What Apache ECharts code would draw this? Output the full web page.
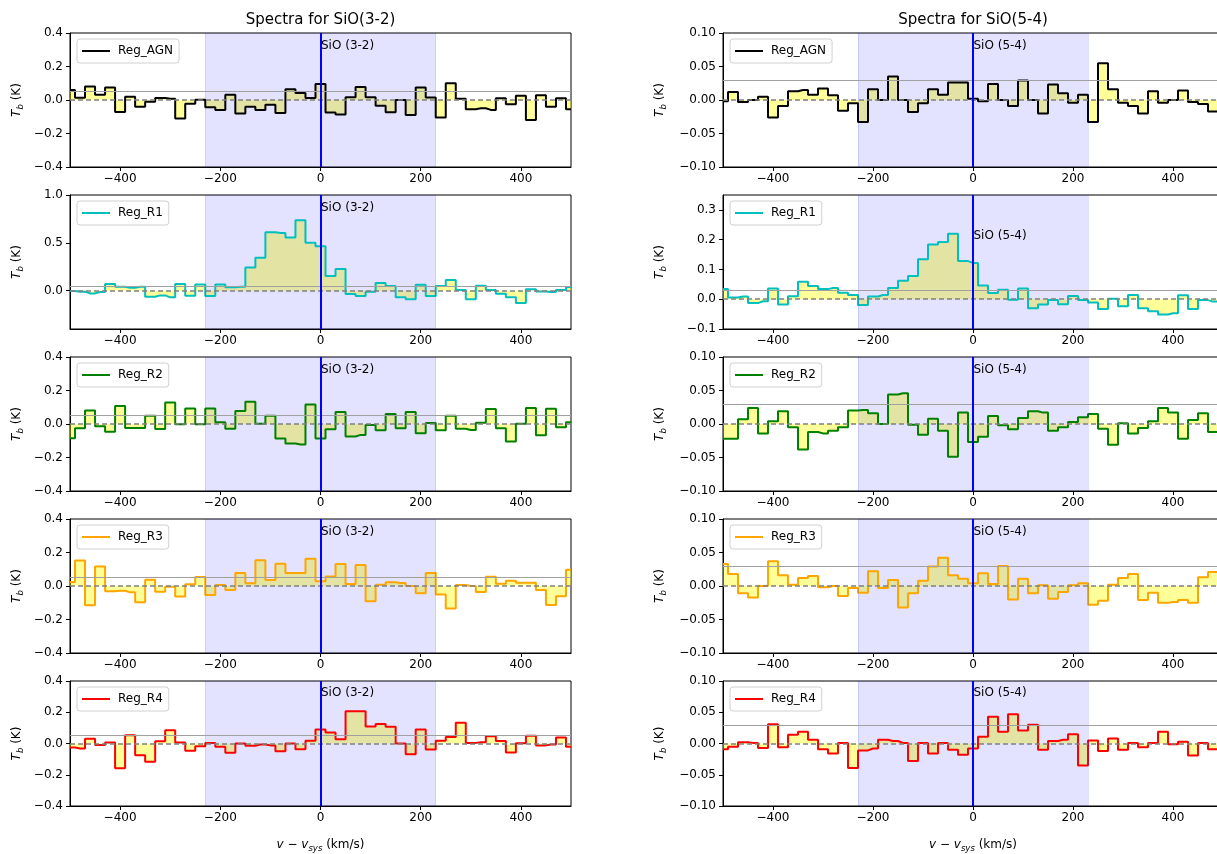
<!DOCTYPE html>
<html><head><meta charset="utf-8">
<script src="https://cdn.jsdelivr.net/npm/echarts@6/dist/echarts.min.js"></script>
<style>html,body{margin:0;padding:0;background:#fff;overflow:hidden}#c{width:1224px;height:854px}</style>
</head><body><div id="c"></div>
<script>
// ---------------- DATA ----------------
const velocity = [-500,-480,-460,-440,-420,-400,-380,-360,-340,-320,-300,-280,-260,-240,-220,-200,-180,-160,-140,-120,-100,-80,-60,-40,-20,0,20,40,60,80,100,120,140,160,180,200,220,240,260,280,300,320,340,360,380,400,420,440,460,480,500];
const regions = ['Reg_AGN','Reg_R1','Reg_R2','Reg_R3','Reg_R4'];
const lines = ['SiO (3-2)','SiO (5-4)'];
const titles = ['Spectra for SiO(3-2)','Spectra for SiO(5-4)'];

const sio32_AGN = [0.060,0.014,0.080,0.032,0.074,-0.072,0.020,-0.040,-0.010,0.012,0.008,-0.110,-0.022,0.002,-0.044,-0.060,0.032,-0.080,-0.040,-0.060,-0.028,-0.078,0.064,0.042,0.012,0.096,-0.075,-0.087,0.017,0.077,0.017,-0.035,-0.073,0.000,-0.090,0.075,0.015,-0.104,0.100,0.007,-0.055,-0.049,-0.059,0.011,-0.025,0.025,-0.120,0.029,-0.041,0.011,-0.055];
const sio32_R1 = [-0.003,-0.010,-0.028,-0.014,0.069,0.042,0.031,0.042,-0.063,-0.049,-0.069,0.069,-0.052,0.066,-0.056,0.066,0.035,0.042,0.243,0.344,0.611,0.604,0.556,0.736,0.500,0.465,0.153,0.226,-0.035,-0.056,-0.010,0.080,0.049,-0.069,-0.090,0.063,-0.056,0.049,0.111,0.007,-0.090,0.052,0.007,-0.031,-0.069,-0.128,0.014,-0.007,-0.014,0.007,0.038];
const sio32_R2 = [-0.085,-0.026,0.081,-0.014,-0.046,0.107,-0.024,-0.024,0.050,-0.030,0.129,-0.002,0.093,-0.002,0.093,0.010,-0.028,0.077,0.133,0.002,0.050,-0.087,-0.117,-0.123,0.117,-0.087,-0.032,0.071,-0.075,-0.065,-0.006,-0.038,0.059,-0.026,0.071,-0.055,0.006,-0.038,0.050,-0.028,-0.036,0.008,0.089,-0.026,-0.105,0.002,0.095,-0.067,0.091,-0.020,0.010];
const sio32_R3 = [0.024,0.152,-0.115,0.117,-0.032,-0.028,-0.038,-0.097,0.038,-0.034,-0.004,-0.063,0.010,0.053,-0.053,0.006,-0.024,0.077,0.016,0.154,0.036,0.133,0.077,0.077,0.162,0.028,0.057,0.131,0.012,0.125,-0.091,0.008,0.022,0.018,0.000,-0.044,0.077,-0.050,-0.135,0.006,0.000,-0.036,0.055,0.014,0.032,0.020,0.020,-0.024,-0.113,-0.061,0.097];
const sio32_R4 = [-0.026,-0.032,0.030,-0.010,0.006,-0.158,0.053,-0.075,-0.117,0.014,0.085,0.006,-0.046,-0.018,0.004,-0.020,-0.059,0.000,-0.014,-0.006,-0.012,-0.050,0.000,-0.036,0.018,0.089,0.071,0.028,0.206,0.206,0.109,0.125,0.107,0.000,-0.069,0.089,-0.038,0.018,0.042,0.133,0.004,0.008,0.046,0.016,-0.057,0.002,0.050,-0.012,-0.006,0.038,-0.020];

const sio54_AGN = [-0.002,0.012,-0.003,0.000,0.005,-0.026,-0.009,0.013,0.015,0.008,0.017,0.007,-0.016,-0.005,-0.033,0.016,0.000,0.035,0.000,-0.018,-0.005,0.016,0.008,0.026,0.026,0.002,-0.002,0.024,0.000,-0.009,0.029,0.000,-0.020,0.023,0.010,-0.004,0.008,-0.033,0.055,0.016,-0.004,-0.009,-0.020,0.013,-0.004,0.000,0.014,-0.003,-0.006,-0.017,-0.005];
const sio54_R1 = [0.034,0.006,0.009,-0.013,-0.007,0.036,-0.018,0.010,0.059,0.044,0.034,0.038,0.022,0.014,-0.019,0.009,0.014,0.038,0.062,0.078,0.134,0.184,0.192,0.220,0.128,0.122,0.046,0.021,0.032,-0.002,0.036,-0.030,-0.018,-0.003,-0.017,0.011,-0.003,-0.011,-0.033,0.002,-0.024,0.014,-0.030,-0.040,-0.051,-0.047,0.013,-0.033,-0.003,-0.008,-0.005];
const sio54_R2 = [-0.022,-0.022,0.007,0.024,-0.014,0.004,0.019,-0.005,-0.038,-0.012,-0.014,-0.010,-0.005,0.020,0.021,0.016,0.000,0.044,0.046,-0.001,-0.016,0.008,-0.010,-0.049,0.017,-0.027,-0.019,0.012,-0.002,-0.008,0.009,0.019,0.017,-0.010,-0.005,0.003,0.010,0.015,-0.007,-0.031,0.001,-0.014,-0.006,0.004,0.024,0.017,-0.022,0.006,0.016,-0.012,-0.010];
const sio54_R3 = [0.033,0.018,-0.011,-0.017,0.000,0.037,0.016,0.002,0.012,0.015,-0.002,0.000,-0.015,-0.003,-0.010,0.022,-0.003,0.009,-0.032,-0.011,0.008,0.029,0.042,0.016,0.011,0.004,0.019,0.003,0.030,-0.020,0.011,-0.011,0.001,-0.019,-0.009,0.001,0.004,-0.028,-0.022,0.002,0.012,0.018,-0.021,-0.010,-0.025,-0.024,-0.021,-0.025,0.013,0.021,0.020];
const sio54_R4 = [-0.009,-0.005,0.002,0.001,-0.007,0.031,-0.006,0.014,0.019,0.006,-0.009,-0.016,0.001,-0.039,-0.011,-0.008,0.006,0.004,0.001,-0.028,0.001,-0.016,0.001,-0.010,-0.018,-0.008,0.011,0.043,0.019,0.047,0.021,0.030,-0.010,0.004,0.006,0.015,-0.035,0.005,-0.012,0.008,-0.010,0.001,-0.006,0.001,0.019,-0.001,0.003,-0.019,0.001,-0.009,-0.005];

const xTicks = [-400,-200,0,200,400];
const yTicks32 = [-0.4,-0.2,0.0,0.2,0.4];
const yTicks32_R1 = [0.0,0.5,1.0];
const yTicks54 = [-0.10,-0.05,0.00,0.05,0.10];
const yTicks54_R1 = [-0.1,0.0,0.1,0.2,0.3];
const yRange32 = [-0.4,0.4], yRange32_R1 = [-0.4,1.0];
const yRange54 = [-0.1,0.1], yRange54_R1 = [-0.1,0.35];
const spanLimits = [-230,230];
const noiseLevel = [0.047, 0.026];
const lineLabelY32 = [0.322,0.864,0.322,0.322,0.322];
const lineLabelY54 = [0.081,0.213,0.081,0.081,0.081];

// ---------------- STYLE ----------------
const colors = ['#000000','#00bfbf','#008000','#ffa500','#ff0000'];
const FONT = 'DejaVu Sans';
const colLeft = [70, 723], colWidth = [501, 500];
const rowTop0 = 33, rowPitch = 162, rowH = 134;
const fmt = (v,d)=>{ let s=(Math.abs(v)<1e-9?0:v).toFixed(d); return s.replace('-','\u2212'); };

const spectra = [[sio32_AGN,sio32_R1,sio32_R2,sio32_R3,sio32_R4],[sio54_AGN,sio54_R1,sio54_R2,sio54_R3,sio54_R4]];

const grid=[], xAxis=[], yAxis=[], series=[], legend=[];
let idx=0;
for (let c=0;c<2;c++){
  for (let r=0;r<5;r++){
    const top = rowTop0 + rowPitch*r;
    grid.push({left:colLeft[c], top:top, width:colWidth[c], height:rowH, show:true, borderColor:'#000', borderWidth:1, backgroundColor:'transparent'});
    let yr, yt, dec;
    if (c===0){ yr = r===1?yRange32_R1:yRange32; yt = r===1?yTicks32_R1:yTicks32; dec=1; }
    else { yr = r===1?yRange54_R1:yRange54; yt = r===1?yTicks54_R1:yTicks54; dec = r===1?1:2; }
    const xa = {gridIndex:idx, type:'value', min:-500, max:500,
      axisLine:{show:true, onZero:false, lineStyle:{color:'#000',width:1}},
      axisTick:{show:true, length:4, customValues:xTicks, lineStyle:{color:'#000',width:1}},
      axisLabel:{customValues:xTicks, formatter:v=>fmt(v,0), color:'#000', fontSize:12, fontFamily:FONT, margin:6},
      splitLine:{show:false}};
    if (r===4){
      xa.name = '{i|v}{n| \u2212 }{i|v}{s|sys}{n| (km/s)}';
      xa.nameLocation='middle'; xa.nameGap=31;
      xa.nameTextStyle={color:'#000', rich:{
        i:{fontStyle:'italic', fontSize:12, fontFamily:FONT, color:'#000', lineHeight:16, verticalAlign:'middle'},
        n:{fontSize:12, fontFamily:FONT, color:'#000', lineHeight:16, verticalAlign:'middle'},
        s:{fontStyle:'italic', fontSize:8.5, fontFamily:FONT, color:'#000', lineHeight:9, verticalAlign:'bottom'}}};
    }
    xAxis.push(xa);
    yAxis.push({gridIndex:idx, type:'value', min:yr[0], max:yr[1],
      axisLine:{show:true, onZero:false, lineStyle:{color:'#000',width:1}},
      axisTick:{show:true, length:4, customValues:yt, lineStyle:{color:'#000',width:1}},
      axisLabel:{customValues:yt, formatter:v=>fmt(v,dec), color:'#000', fontSize:12, fontFamily:FONT, margin:7},
      splitLine:{show:false},
      name:'{t|T}{s|b}{n| (K)}', nameLocation:'middle', nameRotate:90, nameGap: c===0?45:55,
      nameTextStyle:{color:'#000', rich:{
        t:{fontStyle:'italic', fontSize:12, fontFamily:FONT, color:'#000', lineHeight:16, verticalAlign:'middle'},
        n:{fontSize:12, fontFamily:FONT, color:'#000', lineHeight:16, verticalAlign:'middle'},
        s:{fontStyle:'italic', fontSize:8.5, fontFamily:FONT, color:'#000', lineHeight:9, verticalAlign:'bottom'}}}
    });
    const vals = spectra[c][r];
    const pts = velocity.map((v,i)=>[v, vals[i]]);
    // yellow fill between spectrum and zero
    series.push({type:'line', name:'fill_'+idx, xAxisIndex:idx, yAxisIndex:idx, data:pts, step:'middle', symbol:'none',
      lineStyle:{width:0, opacity:0}, areaStyle:{color:'rgba(255,255,0,0.4)', opacity:1, origin:0}, z:1, silent:true, animation:false});
    // velocity span
    series.push({type:'line', name:'span_'+idx, xAxisIndex:idx, yAxisIndex:idx,
      data:[[spanLimits[0], yr[1]],[spanLimits[1], yr[1]]], symbol:'none',
      lineStyle:{width:0, opacity:0}, areaStyle:{color:'rgba(0,0,255,0.11)', opacity:1, origin:'start'}, z:2, silent:true, animation:false,
      markLine:{silent:true, symbol:'none', label:{show:false}, animation:false,
        data:[{xAxis:spanLimits[0]},{xAxis:spanLimits[1]}], lineStyle:{color:'rgba(0,0,255,0.12)', width:1, type:'solid'}}});
    // spectrum step line
    series.push({type:'line', name:regions[r], xAxisIndex:idx, yAxisIndex:idx, data:pts, step:'middle', symbol:'none',
      color:colors[r], lineStyle:{width:2, color:colors[r]}, z:3, animation:false,
      markLine:{silent:true, symbol:'none', label:{show:false}, animation:false,
        data:[
          {yAxis:noiseLevel[c], lineStyle:{color:'#a0a0a0', width:1, type:'solid'}},
          {yAxis:0, lineStyle:{color:'#808080', width:1.5, type:[5,3]}},
          {xAxis:0, lineStyle:{color:'#0000ff', width:2, type:'solid'}}
        ]},
      markPoint:{silent:true, symbol:'circle', symbolSize:1, itemStyle:{color:'rgba(0,0,0,0)'}, animation:false,
        data:[{coord:[0, c===0?lineLabelY32[r]:lineLabelY54[r]]}],
        label:{show:true, position:'right', distance:0, formatter:lines[c], color:'#000', fontSize:12, fontFamily:FONT}}
    });
    legend.push({data:[regions[r]], left:colLeft[c]+7, top:top+6, selectedMode:false, icon:'rect', itemWidth:28, itemHeight:2,
      textStyle:{fontSize:12, fontFamily:FONT, color:'#000', padding:[0,0,0,3]},
      backgroundColor:'rgba(255,255,255,0.8)', borderColor:'#d0d0d0', borderWidth:1, borderRadius:3, padding:[6,6,6,5], z:10});
    idx++;
  }
}

const graphic = titles.map((t,c)=>({type:'text', x: colLeft[c]+colWidth[c]/2, y:20, z:10,
  style:{text:t, font:'15px "DejaVu Sans"', fill:'#000', align:'center', verticalAlign:'middle'}}));

const chart = echarts.init(document.getElementById('c'), null, {renderer:'canvas'});
chart.setOption({backgroundColor:'#fff', animation:false, grid, xAxis, yAxis, series, legend, graphic});
</script></body></html>
